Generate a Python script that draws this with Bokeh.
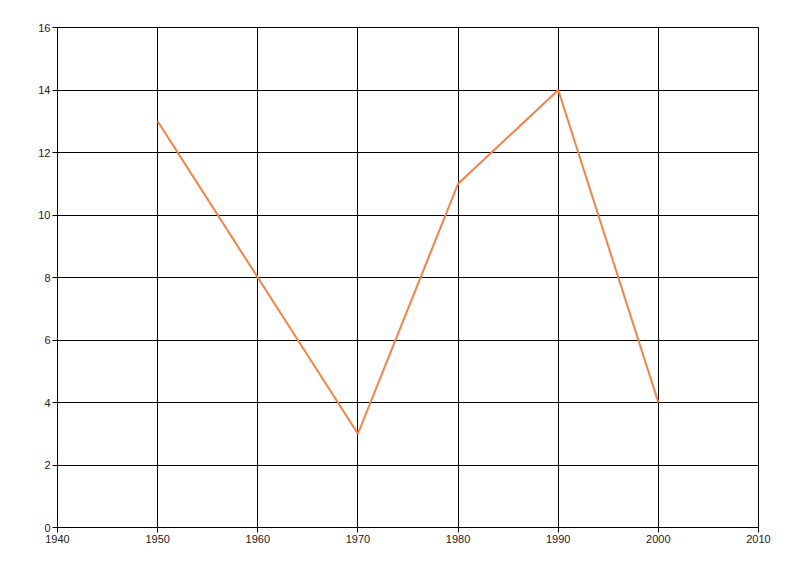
from bokeh.plotting import figure
from bokeh.models import Range1d, FixedTicker
from bokeh.embed import file_html
from bokeh.resources import INLINE

years = [1950, 1960, 1970, 1980, 1990, 2000]
values = [13, 8, 3, 11, 14, 4]
x_ticks = [1940, 1950, 1960, 1970, 1980, 1990, 2000, 2010]
y_ticks = [0, 2, 4, 6, 8, 10, 12, 14, 16]

p = figure(width=784, height=560, output_backend="svg", toolbar_location=None,
           x_range=Range1d(1940, 2010), y_range=Range1d(0, 16),
           min_border_left=57, min_border_top=27, min_border_right=26, min_border_bottom=33)
p.background_fill_color = "white"
p.border_fill_color = "white"
p.outline_line_color = "black"
p.outline_line_width = 1

p.line(years, values, line_color="#FF7F3F", line_width=2)

for ax, ticks in ((p.xaxis, x_ticks), (p.yaxis, y_ticks)):
    ax.ticker = FixedTicker(ticks=ticks)
    ax.axis_line_color = "black"
    ax.major_tick_line_color = "black"
    ax.major_tick_out = 5
    ax.major_tick_in = 0
    ax.minor_tick_line_color = None
    ax.major_label_text_font = "Liberation Sans"
    ax.major_label_text_font_size = "11px"
    ax.major_label_text_color = "#222222"
    ax.major_label_standoff = 2

for g, ticks in ((p.xgrid, x_ticks), (p.ygrid, y_ticks)):
    g.ticker = FixedTicker(ticks=ticks)
    g.grid_line_color = "black"
    g.grid_line_alpha = 1.0
    g.grid_line_width = 1

open("out.html", "w").write(file_html(p, INLINE))
